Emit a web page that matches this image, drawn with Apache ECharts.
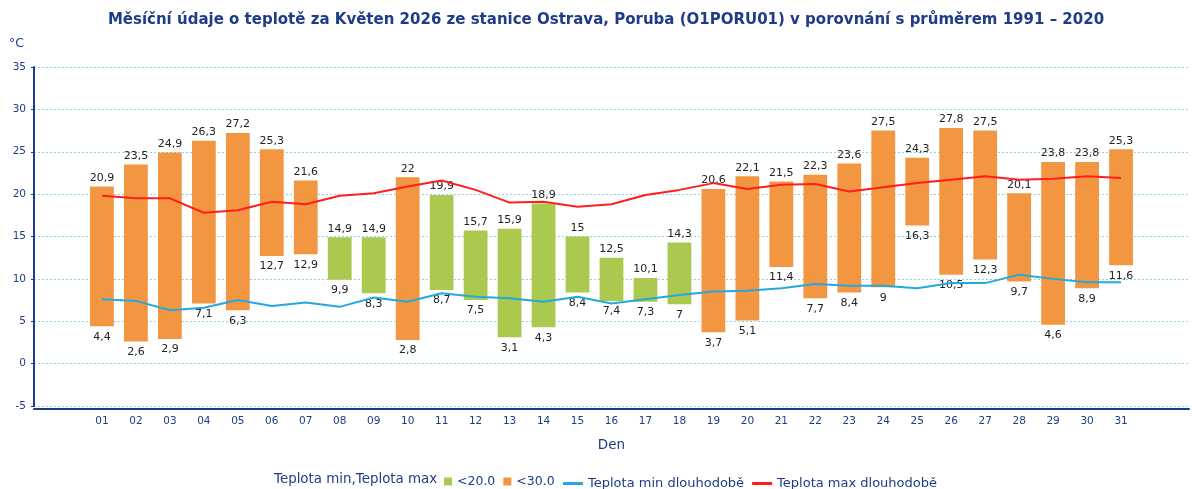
<!DOCTYPE html>
<html>
<head>
<meta charset="utf-8">
<script src="https://cdn.jsdelivr.net/npm/echarts@6/dist/echarts.min.js"></script>
<style>
  html, body { margin: 0; padding: 0; background: #fff; }
  #chart { width: 1192px; height: 489px; }
</style>
</head>
<body>
<div id="chart"></div>
<script>
// dny v měsíci
var days = ['01', '02', '03', '04', '05', '06', '07', '08', '09', '10', '11', '12', '13', '14', '15', '16',
  '17', '18', '19', '20', '21', '22', '23', '24', '25', '26', '27', '28', '29', '30', '31'];
// denní minimum / maximum
var tMin = [4.4, 2.6, 2.9, 7.1, 6.3, 12.7, 12.9, 9.9, 8.3, 2.8, 8.7, 7.5, 3.1, 4.3, 8.4, 7.4,
  7.3, 7, 3.7, 5.1, 11.4, 7.7, 8.4, 9, 16.3, 10.5, 12.3, 9.7, 4.6, 8.9, 11.6];
var tMax = [20.9, 23.5, 24.9, 26.3, 27.2, 25.3, 21.6, 14.9, 14.9, 22, 19.9, 15.7, 15.9, 18.9, 15, 12.5,
  10.1, 14.3, 20.6, 22.1, 21.5, 22.3, 23.6, 27.5, 24.3, 27.8, 27.5, 20.1, 23.8, 23.8, 25.3];
// dlouhodobý průměr 1991-2020
var normMin = [7.6, 7.4, 6.3, 6.6, 7.5, 6.8, 7.2, 6.7, 7.8, 7.3, 8.3, 7.9, 7.7, 7.3, 7.9, 7.1,
  7.6, 8.1, 8.5, 8.6, 8.9, 9.4, 9.2, 9.2, 8.9, 9.5, 9.5, 10.5, 10.0, 9.6, 9.6];
var normMax = [19.8, 19.5, 19.5, 17.8, 18.1, 19.1, 18.8, 19.8, 20.1, 20.9, 21.6, 20.5, 19.0, 19.1, 18.5, 18.8,
  19.9, 20.5, 21.3, 20.6, 21.1, 21.2, 20.3, 20.8, 21.3, 21.7, 22.1, 21.7, 21.8, 22.1, 21.9];

var blue = '#1f3c88';
var font = '"DejaVu Sans", Verdana, sans-serif';

var greenData = [], orangeData = [];
tMax.forEach(function (v, i) {
  if (v < 20) greenData.push([i, tMin[i], v]);
  else orangeData.push([i, tMin[i], v]);
});
function fmt(v) { return String(v).replace('.', ','); }

function renderRange(params, api) {
  var x = api.value(0), lo = api.value(1), hi = api.value(2);
  var top = api.coord([x, hi]);
  var bottom = api.coord([x, lo]);
  var w = api.size([1, 0])[0] * 0.7;
  var txt = { fill: '#222', font: '11px ' + font };
  return {
    type: 'group',
    children: [
      { type: 'rect', shape: { x: top[0] - w / 2, y: top[1], width: w, height: bottom[1] - top[1] },
        style: { fill: api.visual('color') } },
      { type: 'text', x: top[0], y: top[1] - 3,
        style: Object.assign({ text: fmt(hi), align: 'center', verticalAlign: 'bottom', textAlign: 'center', textVerticalAlign: 'bottom' }, txt) },
      { type: 'text', x: bottom[0], y: bottom[1] + 5,
        style: Object.assign({ text: fmt(lo), align: 'center', verticalAlign: 'top', textAlign: 'center', textVerticalAlign: 'top' }, txt) }
    ]
  };
}

var chart = echarts.init(document.getElementById('chart'));
chart.setOption({
  animation: false,
  textStyle: { fontFamily: font },
  title: {
    text: 'Měsíční údaje o teplotě za Květen 2026 ze stanice Ostrava, Poruba (O1PORU01) v porovnání s průměrem 1991 – 2020',
    left: 606, top: 13, padding: 0, textAlign: 'center',
    textStyle: { color: blue, fontSize: 15, fontWeight: 'bold', fontFamily: font }
  },
  graphic: [
    { type: 'text', left: 9, top: 37, style: { text: '°C', fill: blue, font: '12.5px ' + font } },
    { type: 'text', left: 274, top: 473, style: { text: 'Teplota min,Teplota max', fill: blue, font: '13.4px ' + font } }
  ],
  legend: [
    { data: [{ name: '<20.0', icon: 'rect' }, { name: '<30.0', icon: 'rect' }],
      left: 444, top: 475, padding: 0, itemWidth: 8, itemHeight: 8, itemGap: 8,
      textStyle: { color: blue, fontSize: 12.5, fontFamily: font } },
    { data: [{ name: 'Teplota min dlouhodobě', icon: 'rect' }, { name: 'Teplota max dlouhodobě', icon: 'rect' }],
      left: 563, top: 477, padding: 0, itemWidth: 20, itemHeight: 3, itemGap: 8,
      textStyle: { color: blue, fontSize: 13, fontFamily: font } }
  ],
  grid: { left: 34, right: 0, top: 67, bottom: 83, containLabel: false },
  xAxis: {
    type: 'value', min: -2, max: 32, interval: 1, offset: 3,
    name: 'Den', nameLocation: 'middle', nameGap: 29,
    nameTextStyle: { color: blue, fontSize: 13.5, fontFamily: font },
    axisLine: { onZero: false, lineStyle: { color: blue, width: 2 } },
    axisTick: { show: false },
    splitLine: { show: false },
    axisLabel: {
      margin: 7, color: blue, fontSize: 10.5, fontFamily: font,
      formatter: function (v) { return days[v] || ''; }
    }
  },
  yAxis: {
    type: 'value', min: -5, max: 35, interval: 5,
    axisLine: { show: true, onZero: false, lineStyle: { color: blue, width: 2 } },
    axisTick: { show: true, length: 3, lineStyle: { color: blue } },
    axisLabel: { margin: 8, color: blue, fontSize: 10.5, fontFamily: font },
    splitLine: { lineStyle: { color: '#8fd3e6', type: [2, 2], width: 1 } }
  },
  series: [
    { name: '<20.0', type: 'custom', renderItem: renderRange, data: greenData,
      encode: { x: 0, y: [1, 2] }, itemStyle: { color: '#abc84f' }, z: 2 },
    { name: '<30.0', type: 'custom', renderItem: renderRange, data: orangeData,
      encode: { x: 0, y: [1, 2] }, itemStyle: { color: '#f39641' }, z: 2 },
    { name: 'Teplota min dlouhodobě', type: 'line', symbol: 'none', z: 3,
      data: normMin.map(function (v, i) { return [i, v]; }),
      lineStyle: { color: '#23a8e2', width: 2 }, itemStyle: { color: '#23a8e2' } },
    { name: 'Teplota max dlouhodobě', type: 'line', symbol: 'none', z: 3,
      data: normMax.map(function (v, i) { return [i, v]; }),
      lineStyle: { color: '#ff1e1e', width: 2 }, itemStyle: { color: '#ff1e1e' } }
  ]
});
</script>
</body>
</html>
